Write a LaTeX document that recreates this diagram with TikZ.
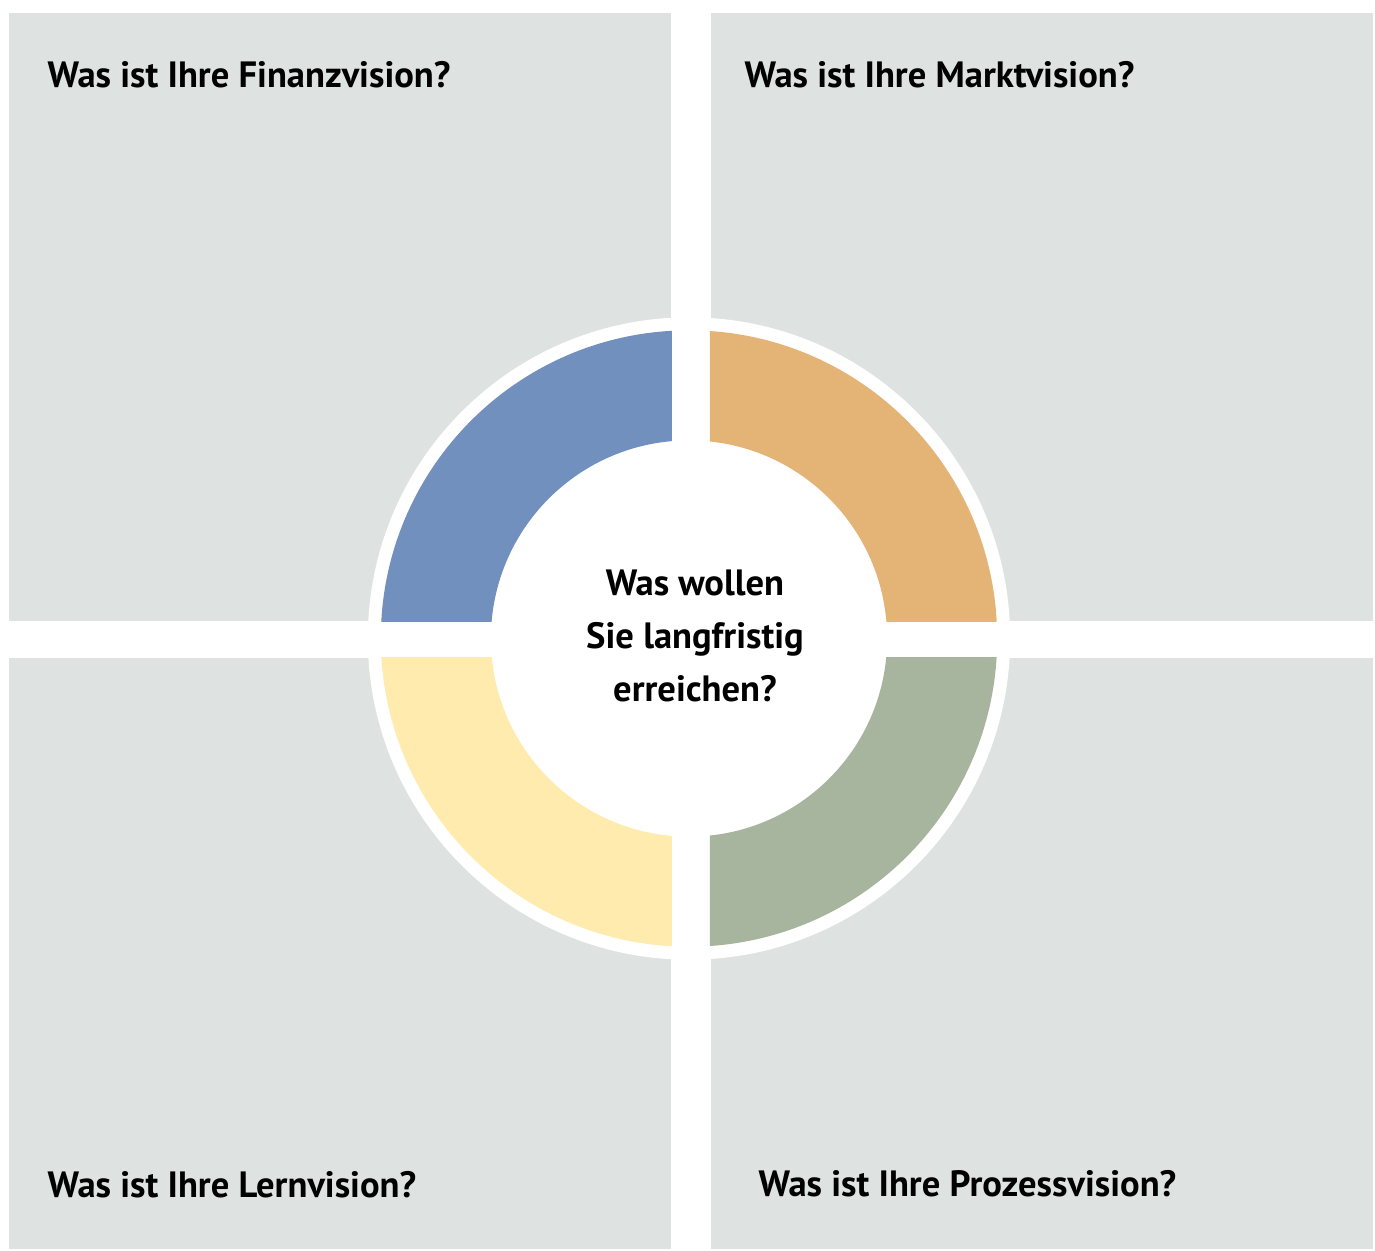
\documentclass[tikz,border=0pt]{standalone}
\usepackage{fontspec}
\setmainfont{PT Sans}
\usetikzlibrary{positioning}
\definecolor{panelgrey}{HTML}{DEE2E1}
\definecolor{finblue}{HTML}{7190BE}
\definecolor{marktorange}{HTML}{E4B477}
\definecolor{lernyellow}{HTML}{FEEBAD}
\definecolor{prozgreen}{HTML}{A8B59E}

\begin{document}
\begin{tikzpicture}[x=0.01cm, y=-0.01cm,
	panel/.style={ % graues Feld
		fill=panelgrey, draw=none, inner sep=0pt, minimum width=6.62cm
	},
	question/.style={ % Frage im Feld
		inner sep=0pt, font=\fontsize{10.4}{15.1}\selectfont\bfseries
	},
	quarter/.style={ % Viertel des Rings
		even odd rule
	}
]
	\useasboundingbox (0,0) rectangle (1375,1250);
	%% die vier Felder
	\node[panel, minimum height=6.08cm, anchor=north west] (fin) at (8,12) {};
	\node[panel, minimum height=6.08cm, right =0.38cm of fin] (markt) {};
	\node[panel, minimum height=5.91cm, anchor=north west] (lern) at (8,657) {};
	\node[panel, minimum height=5.91cm, right =0.38cm of lern] (proz) {};
	%% Fragen
	\node[question, anchor=base west] (finq) at (47,87) {Was ist Ihre Finanzvision?};
	\node[question, anchor=base west] (marktq) at (744,87) {Was ist Ihre Marktvision?};
	\node[question, anchor=base west] (lernq) at (47,1197) {Was ist Ihre Lernvision?};
	\node[question, anchor=base west] (prozq) at (758,1196) {Was ist Ihre Prozessvision?};
	%% Ring in der Mitte
	\coordinate (c) at (689,638.5);
	\fill[white] (c) circle[radius=3.21cm];
	% jedes Viertel auf sein Feld beschnitten
	\foreach \feld/\farbe in {fin/finblue, markt/marktorange, lern/lernyellow, proz/prozgreen}{
		\begin{scope}
			\clip (\feld.south west) rectangle (\feld.north east);
			\fill[quarter, \farbe] (c) circle[radius=3.08cm] (c) circle[radius=1.98cm];
		\end{scope}
	}
	\node[question, align=center, anchor=center] (ziel) at (695,636) {Was wollen\\Sie langfristig\\erreichen?};
\end{tikzpicture}
\end{document}
